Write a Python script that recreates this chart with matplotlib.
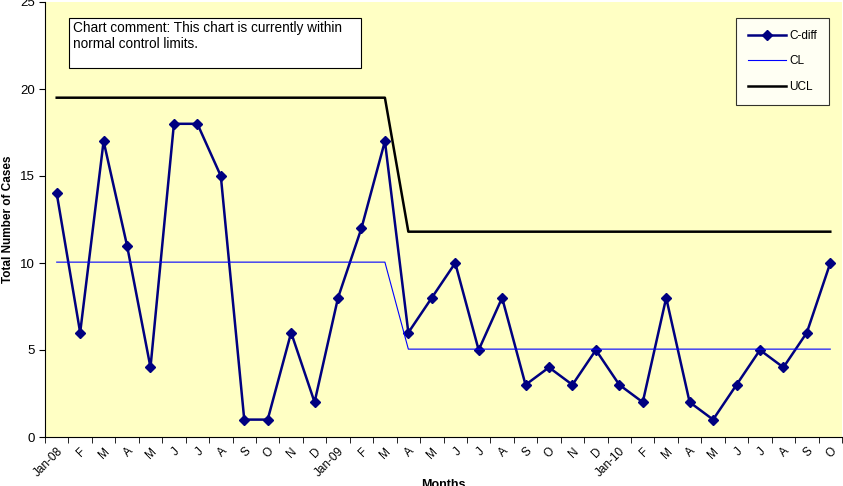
import matplotlib
matplotlib.use("Agg")
import matplotlib.pyplot as plt
from matplotlib.patches import Rectangle

plt.rcParams['font.family'] = ['Liberation Sans', 'DejaVu Sans']

months = ['Jan-08', 'F', 'M', 'A', 'M', 'J', 'J', 'A', 'S', 'O', 'N', 'D',
          'Jan-09', 'F', 'M', 'A', 'M', 'J', 'J', 'A', 'S', 'O', 'N', 'D',
          'Jan-10', 'F', 'M', 'A', 'M', 'J', 'J', 'A', 'S', 'O']
cdiff = [14, 6, 17, 11, 4, 18, 18, 15, 1, 1, 6, 2,
         8, 12, 17, 6, 8, 10, 5, 8, 3, 4, 3, 5,
         3, 2, 8, 2, 1, 3, 5, 4, 6, 10]
cl = [10.05] * 15 + [5.05] * 19
ucl = [19.5] * 15 + [11.8] * 19

W, H = 843, 486
fig = plt.figure(figsize=(W / 100, H / 100), dpi=100)
ax = fig.add_axes([45/W, 49/H, 797/W, 435/H])
ax.set_facecolor('#FFFFC4')

x = list(range(len(months)))
ax.plot(x, cdiff, color='#000080', lw=1.8, marker='D', ms=5.5, label='C-diff')
ax.plot(x, cl, color='#0000FF', lw=0.8, label='CL')
ax.plot(x, ucl, color='black', lw=1.8, label='UCL')

ax.set_xlim(-0.5, len(months) - 0.5)
ax.set_ylim(0, 25)
ax.set_yticks([0, 5, 10, 15, 20, 25])
ax.tick_params(axis='y', labelsize=9.5, length=4)
ax.set_xticks(x)
ax.set_xticklabels(months, rotation=45, ha='right', rotation_mode='anchor', fontsize=8.5)
ax.tick_params(axis='x', length=0, pad=6)
ax.set_xticks([i - 0.5 for i in range(len(months) + 1)], minor=True)
ax.tick_params(axis='x', which='minor', length=4)
for s in ['top', 'right']:
    ax.spines[s].set_visible(False)

ax.set_ylabel('Total Number of Cases', fontsize=8.5, fontweight='bold', labelpad=4)
ax.set_xlabel('Months', fontsize=9, fontweight='bold', labelpad=0)

# comment box
fig.patches.append(Rectangle((69/W, (H - 68)/H), 292/W, 50/H, transform=fig.transFigure,
                             fc='white', ec='black', lw=0.8, zorder=5))
fig.text(73/W, (H - 21)/H, 'Chart comment: This chart is currently within\nnormal control limits.',
         fontsize=9.8, va='top', ha='left', linespacing=1.15, zorder=6)

leg = ax.legend(loc='upper right', bbox_to_anchor=(829/W, (H - 18)/H),
                bbox_transform=fig.transFigure, borderaxespad=0, fontsize=8.5,
                frameon=True, fancybox=False, edgecolor='black', handlelength=3.2,
                borderpad=1.0, labelspacing=1.15, handletextpad=0.3)
leg.get_frame().set_linewidth(0.8)

plt.savefig('out.png', dpi=100)
